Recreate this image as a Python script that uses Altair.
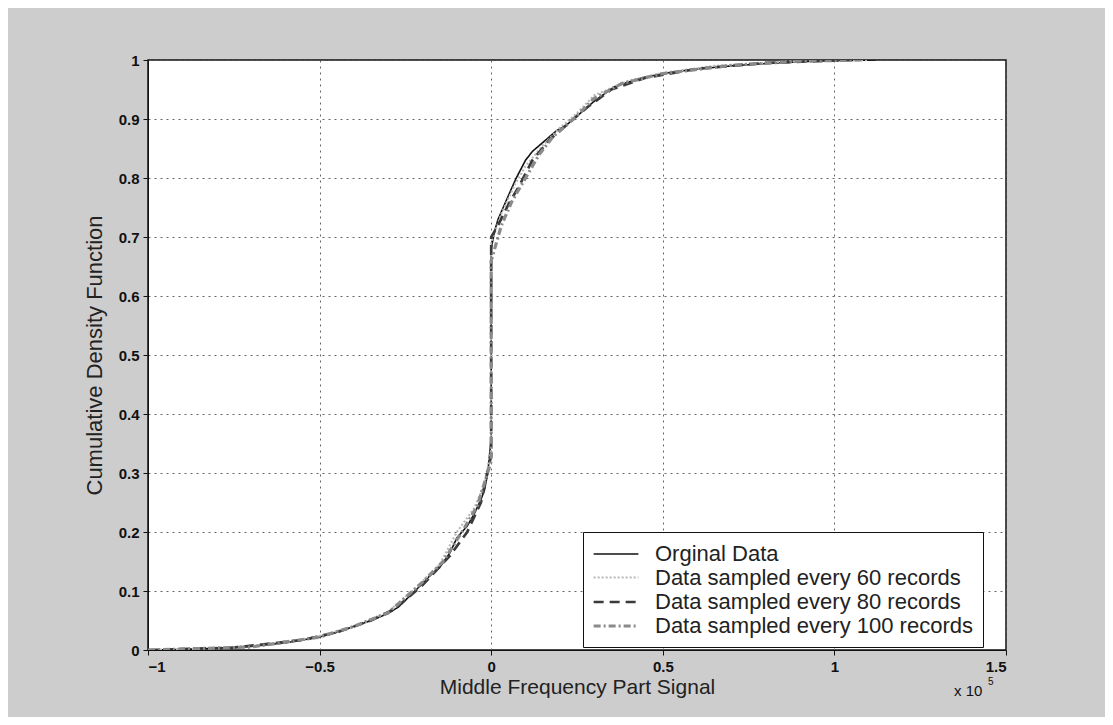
import altair as alt
import pandas as pd

# ---- data (x in units of 1e5) ----
orig_x = [-1.0,-0.9,-0.8,-0.7,-0.6,-0.5,-0.45,-0.4,-0.35,-0.3,-0.27,-0.24,-0.21,-0.18,-0.15,-0.12,-0.1,-0.07,-0.05,-0.03,-0.02,-0.01,-0.005,0,0,0.01,0.02,0.035,0.05,0.073,0.1,0.12,0.15,0.19,0.22,0.25,0.3,0.36,0.44,0.51,0.6,0.7,0.8,0.9,1.0,1.12]
orig_y = [0,0.001,0.003,0.006,0.012,0.022,0.03,0.04,0.05,0.062,0.073,0.09,0.107,0.125,0.14,0.165,0.19,0.21,0.23,0.255,0.27,0.30,0.33,0.36,0.68,0.71,0.73,0.75,0.77,0.80,0.83,0.845,0.86,0.88,0.89,0.905,0.93,0.955,0.97,0.978,0.985,0.99,0.994,0.997,0.999,1.0]

s60_x = [-1.0,-0.8,-0.6,-0.5,-0.4,-0.3,-0.22,-0.15,-0.1,-0.05,-0.02,0,0,0.03,0.07,0.1,0.15,0.2,0.25,0.3,0.4,0.5,0.65,0.85,1.1]
s60_y = [0,0.003,0.012,0.024,0.04,0.065,0.105,0.145,0.2,0.24,0.28,0.34,0.69,0.74,0.79,0.82,0.855,0.885,0.91,0.94,0.965,0.978,0.99,0.997,1.0]

s80_x = [-1.0,-0.75,-0.55,-0.45,-0.35,-0.28,-0.2,-0.12,-0.07,-0.03,0,0,0.02,0.05,0.08,0.12,0.17,0.22,0.28,0.35,0.45,0.6,0.8,1.05]
s80_y = [0,0.004,0.017,0.03,0.05,0.07,0.11,0.16,0.2,0.25,0.33,0.7,0.72,0.755,0.785,0.83,0.865,0.89,0.92,0.95,0.97,0.985,0.995,1.0]

s100_x = [-1.0,-0.7,-0.5,-0.4,-0.3,-0.2,-0.14,-0.08,-0.04,0,0,0.03,0.06,0.1,0.14,0.18,0.24,0.3,0.38,0.5,0.7,0.9,1.08]
s100_y = [0,0.005,0.022,0.04,0.063,0.115,0.15,0.205,0.245,0.32,0.66,0.72,0.76,0.8,0.84,0.87,0.9,0.935,0.96,0.977,0.991,0.998,1.0]

series_names = ["Orginal Data", "Data sampled every 60 records",
                "Data sampled every 80 records", "Data sampled every 100 records"]
x_ticks = [-1, -0.5, 0, 0.5, 1, 1.5]
y_ticks = [0, 0.1, 0.2, 0.3, 0.4, 0.5, 0.6, 0.7, 0.8, 0.9, 1]

rows = []
for name, xs, ys in zip(series_names, [orig_x, s60_x, s80_x, s100_x], [orig_y, s60_y, s80_y, s100_y]):
    for i, (x, y) in enumerate(zip(xs, ys)):
        rows.append({"series": name, "x": x, "y": y, "i": i})
df = pd.DataFrame(rows)

FONT = "Liberation Sans"

lines = alt.Chart(df).mark_line(clip=True).encode(
    x=alt.X("x:Q", scale=alt.Scale(domain=[-1, 1.5], nice=False),
            axis=alt.Axis(values=x_ticks, title="Middle Frequency Part Signal",
                          format="~g", grid=True)),
    y=alt.Y("y:Q", scale=alt.Scale(domain=[0, 1], nice=False),
            axis=alt.Axis(values=y_ticks, title="Cumulative Density Function",
                          format="~g", grid=True, titleFontSize=22)),
    order="i:Q",
    color=alt.Color("series:N", scale=alt.Scale(domain=series_names,
                    range=["#111111", "#b8b8b8", "#3a3a3a", "#8a8a8a"]),
                    legend=alt.Legend(title=None)),
    strokeDash=alt.StrokeDash("series:N", scale=alt.Scale(domain=series_names,
                    range=[[1, 0], [2, 2], [10, 6], [7, 3, 2, 3]]),
                    legend=alt.Legend(title=None)),
    strokeWidth=alt.StrokeWidth("series:N", scale=alt.Scale(domain=series_names,
                    range=[1.6, 3.2, 1.8, 1.6]),
                    legend=alt.Legend(title=None)),
)

exp_label = alt.Chart(pd.DataFrame({"t": ["x 10"]})).mark_text(
    font=FONT, fontSize=15, color="#111", align="left", baseline="middle"
).encode(x=alt.value(806), y=alt.value(631), text="t:N")
exp_sup = alt.Chart(pd.DataFrame({"t": ["5"]})).mark_text(
    font=FONT, fontSize=10, color="#111", align="left", baseline="middle"
).encode(x=alt.value(840), y=alt.value(622), text="t:N")

chart = alt.layer(lines, exp_label, exp_sup).properties(
    width=858, height=590,
    autosize=alt.AutoSizeParams(type="none"),
    padding={"left": 140, "top": 52, "right": 99, "bottom": 67},
    background="#cdcdcd",
).configure_view(
    fill="white", stroke="#111111", strokeWidth=1.5
).configure_axis(
    labelFont=FONT, titleFont=FONT, labelFontSize=15, titleFontSize=21,
    labelColor="#111", titleColor="#222", titleFontWeight="normal",
    labelFontWeight="bold",
    gridColor="#555", gridDash=[2, 4], gridWidth=1, gridOpacity=0.9,
    domainColor="#111", tickColor="#111", tickSize=5, labelPadding=4,
).configure_axisX(titlePadding=2).configure_axisY(titlePadding=12).configure_legend(
    orient="none", legendX=435, legendY=472,
    fillColor="white", strokeColor="#111", padding=10,
    labelFont=FONT, labelFontSize=22, labelColor="#222",
    symbolType="M-2,0H2", symbolSize=500, rowPadding=0, labelLimit=400,
    labelOffset=26, symbolOffset=10,
)

chart.save("out.html", embed_options={"renderer": "svg", "actions": False})
